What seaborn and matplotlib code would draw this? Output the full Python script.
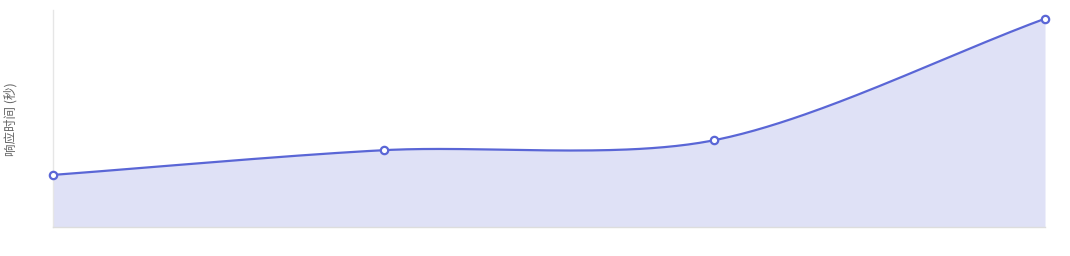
import numpy as np
import pandas as pd
import matplotlib
matplotlib.use("Agg")
import matplotlib.pyplot as plt
import seaborn as sns

categories = ["A", "B", "C", "D"]
response_time = [1.2, 1.77, 2.0, 4.8]
y_max = 5.0
y_label = "响应时间 (秒)"

sns.set_theme(style="white")
plt.rcParams['font.family'] = ['Noto Sans CJK SC', 'DejaVu Sans']

line_color = "#5a66d6"
fill_color = "#dfe1f6"

W, H = 1070, 256
ax_l, ax_r, ax_t, ax_b = 53, 1045, 10, 227
fig = plt.figure(figsize=(W/100, H/100), dpi=100)
ax = fig.add_axes([ax_l/W, (H-ax_b)/H, (ax_r-ax_l)/W, (ax_b-ax_t)/H])

xs = np.arange(len(categories), dtype=float)
ys = np.array(response_time, dtype=float)

# Chart.js-style spline (tension) for drawing the line between the data points
tension = 0.3
sx = (ax_r-ax_l)/(len(categories)-1)
sy = (ax_b-ax_t)/y_max
P = np.column_stack([xs*sx, ys*sy])
n = len(P)
cp_prev, cp_next = [], []
for i in range(n):
    prev = P[i-1] if i > 0 else P[i]
    nxt = P[i+1] if i < n-1 else P[i]
    cur = P[i]
    d01 = np.linalg.norm(cur - prev)
    d12 = np.linalg.norm(nxt - cur)
    s01 = d01/(d01+d12)
    s12 = d12/(d01+d12)
    cp_prev.append(cur - tension*s01*(nxt - prev))
    cp_next.append(cur + tension*s12*(nxt - prev))

t = np.linspace(0, 1, 80)[:, None]
cx, cy = [], []
for i in range(n-1):
    p0, p1, p2, p3 = P[i], cp_next[i], cp_prev[i+1], P[i+1]
    b = (1-t)**3*p0 + 3*(1-t)**2*t*p1 + 3*(1-t)*t**2*p2 + t**3*p3
    cx.extend(b[:, 0]/sx); cy.extend(b[:, 1]/sy)
curve = pd.DataFrame({"x": cx, "y": cy})

ax.fill_between(curve["x"], curve["y"], 0, color=fill_color, lw=0, zorder=1)
sns.lineplot(data=curve, x="x", y="y", ax=ax, color=line_color, lw=1.6, sort=False, zorder=2)
pts = pd.DataFrame({"x": xs, "y": ys})
sns.scatterplot(data=pts, x="x", y="y", ax=ax, s=28, facecolor="white",
                edgecolor=line_color, linewidth=1.6, zorder=3, clip_on=False)

ax.set_xlim(0, len(categories)-1)
ax.set_ylim(0, y_max)
ax.set_xticks([]); ax.set_yticks([])
ax.set_xlabel(""); ax.set_ylabel("")
fig.text(11/W, 1-119/H, y_label, rotation=90, ha="center", va="center",
         fontsize=9, color="#666666")
for side in ["top", "right"]:
    ax.spines[side].set_visible(False)
ax.spines["left"].set_color("#e6e6e6")
ax.spines["left"].set_linewidth(1)
ax.spines["bottom"].set_color("#dddddd")
ax.spines["bottom"].set_linewidth(1)

fig.savefig("out.png", dpi=100, facecolor="white")
